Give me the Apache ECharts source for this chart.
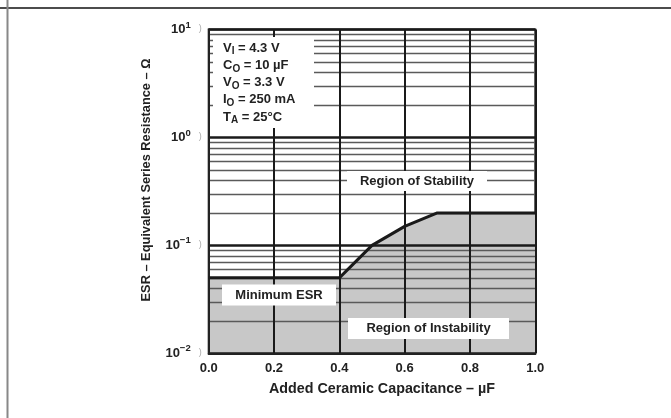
<!DOCTYPE html>
<html><head><meta charset="utf-8">
<script src="https://cdn.jsdelivr.net/npm/echarts@6/dist/echarts.min.js"></script>
<style>html,body{margin:0;padding:0;background:#fff}#c{width:671px;height:418px}</style>
</head><body><div id="c"></div>
<script>
const capacitance = [0, 0.4, 0.5, 0.6, 0.7, 1.0];
const esrBoundary = [0.05, 0.05, 0.1, 0.15, 0.2, 0.2];
const minorLevels = [0.02,0.03,0.04,0.05,0.06,0.07,0.08,0.09,0.2,0.3,0.4,0.5,0.6,0.7,0.8,0.9,2,3,4,5,6,7,8,9];
const yTickExp = {"0.01":"\u22122","0.1":"\u22121","1":"0","10":"1"};
const conditions = [["V","I"," = 4.3 V"],["C","O"," = 10 \u00b5F"],["V","O"," = 3.3 V"],["I","O"," = 250 mA"],["T","A"," = 25\u00b0C"]];
const xTitle = 'Added Ceramic Capacitance \u2013 \u00b5F';
const yTitle = 'ESR \u2013 Equivalent Series Resistance \u2013 \u03a9';

const FONT = '"Liberation Sans", Arial, Helvetica, sans-serif';
const pts = capacitance.map((x,i)=>[x, esrBoundary[i]]);
const chart = echarts.init(document.getElementById('c'));
const boxText = (cx, cy, w, h, txt) => ({
  type:'group', z:50, children:[
    {type:'rect', shape:{x:cx-w/2, y:cy-h/2, width:w, height:h}, style:{fill:'#fff'}, z:50},
    {type:'text', x:cx, y:cy, z:51, style:{text:txt, font:'bold 13px '+FONT, fill:'#222', align:'center', verticalAlign:'middle'}}
  ]});
const condChildren = [{type:'rect', shape:{x:213, y:37, width:101, height:91}, style:{fill:'#fff'}, z:50}];
conditions.forEach((c,i)=>{
  condChildren.push({type:'text', x:223, y:48 + i*17.3, z:51, style:{
    text:'{b|'+c[0]+'}{s|'+c[1]+'}{b|'+c[2]+'}', verticalAlign:'middle', align:'left',
    rich:{b:{fontFamily:FONT, fontWeight:'bold', fontSize:13, fill:'#222', color:'#222'},
          s:{fontFamily:FONT, fontWeight:'bold', fontSize:10, fill:'#222', color:'#222', padding:[7,0,0,0]}}
  }});
});
chart.setOption({
  animation:false,
  grid:{left:208.7, right:135.7, top:29.5, bottom:64.7, show:true, borderColor:'#222', borderWidth:2, backgroundColor:'#fff'},
  xAxis:{type:'value', min:0, max:1, interval:0.2, z:3,
    axisLine:{show:true, lineStyle:{color:'#222', width:2}}, axisTick:{show:false},
    axisLabel:{fontFamily:FONT, fontWeight:'bold', fontSize:13, color:'#222', margin:9, formatter:v=>v.toFixed(1)},
    splitLine:{show:true, lineStyle:{color:'#1a1a1a', width:2}}},
  yAxis:{type:'log', logBase:10, min:0.01, max:10, z:3,
    axisLine:{show:true, lineStyle:{color:'#222', width:2}}, axisTick:{show:false},
    axisLabel:{margin:7, formatter:v=>'{b|10}{s|'+yTickExp[String(+v.toPrecision(3))]+'}{g|)}',
      rich:{b:{fontFamily:FONT, fontWeight:'bold', fontSize:13, color:'#222'},
            s:{fontFamily:FONT, fontWeight:'bold', fontSize:9.5, color:'#222', padding:[0,0,9,0]},
            g:{fontFamily:FONT, fontSize:9, color:'#aaa', padding:[0,0,2,8]}}},
    splitLine:{show:true, lineStyle:{color:'#1a1a1a', width:2.5}}},
  series:[
    {type:'line', data:pts, z:1, symbol:'none', silent:true,
      lineStyle:{width:0}, areaStyle:{color:'#c8c8c8', origin:'start', opacity:1}},
    {type:'line', data:pts, z:4, symbol:'none', silent:true,
      lineStyle:{color:'#1a1a1a', width:3},
      markLine:{silent:true, symbol:'none', label:{show:false}, z:2,
        lineStyle:{color:'#5a5a5a', width:1.3, type:'solid'},
        data:minorLevels.map(v=>({yAxis:v}))}}
  ],
  graphic:[
    {type:'line', shape:{x1:0, y1:8, x2:671, y2:8}, style:{stroke:'#111', lineWidth:1.5}, z:60},
    {type:'line', shape:{x1:7.5, y1:0, x2:7.5, y2:418}, style:{stroke:'#888', lineWidth:2}, z:60},
    {type:'text', x:382, y:389, z:60, style:{text:xTitle, font:'bold 14.3px '+FONT, fill:'#222', align:'center', verticalAlign:'middle'}},
    {type:'text', x:146, y:180, rotation:Math.PI/2, z:60, style:{text:yTitle, font:'bold 12.8px '+FONT, fill:'#222', align:'center', verticalAlign:'middle'}},
    {type:'group', z:50, children:condChildren},
    boxText(417, 181, 140, 20, 'Region of Stability'),
    boxText(279, 295, 114, 21, 'Minimum ESR'),
    boxText(428.5, 328.5, 161, 21, 'Region of Instability')
  ]
});
</script></body></html>
